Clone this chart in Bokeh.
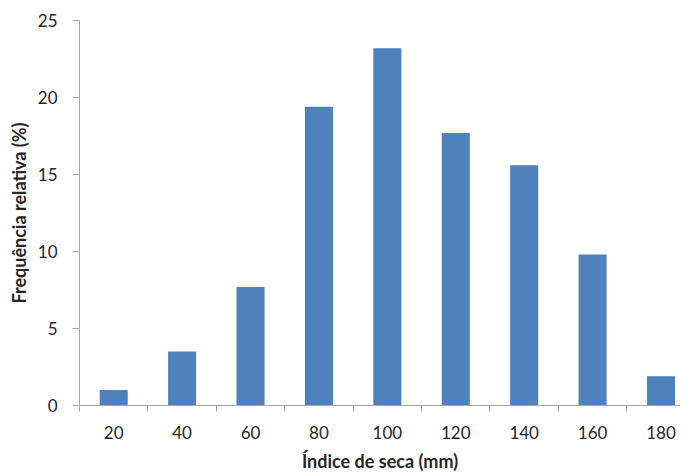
from bokeh.plotting import figure
from bokeh.models import Range1d, FixedTicker, ColumnDataSource
from bokeh.embed import file_html
from bokeh.resources import INLINE

# Data
categories = [20, 40, 60, 80, 100, 120, 140, 160, 180]
frequencies = [1.0, 3.5, 7.7, 19.4, 23.2, 17.7, 15.6, 9.8, 1.9]
y_ticks = [0, 5, 10, 15, 20, 25]

source = ColumnDataSource(data=dict(x=categories, top=frequencies))

FONT = "Lato"
AXIS_COLOR = "#a6a6a6"
TEXT_COLOR = "#262626"

p = figure(
    output_backend="svg",
    toolbar_location=None,
    frame_width=601,
    frame_height=385,
    min_border_left=79,
    min_border_top=20,
    min_border_right=0,
    min_border_bottom=60,
    x_range=Range1d(10, 185.7),
    y_range=Range1d(0, 25),
)

p.vbar(x="x", top="top", width=8.2, source=source,
       fill_color="#4F81BD", line_color=None)

p.outline_line_color = None
p.xgrid.visible = False
p.ygrid.visible = False

# X axis: labels at category centres, tick marks at category boundaries
boundaries = [c - 10 for c in categories]
p.xaxis.ticker = FixedTicker(ticks=categories, minor_ticks=boundaries)
p.xaxis.major_tick_out = 0
p.xaxis.major_tick_in = 0
p.xaxis.minor_tick_out = 6
p.xaxis.minor_tick_in = 0
p.xaxis.minor_tick_line_color = AXIS_COLOR
p.xaxis.axis_line_color = AXIS_COLOR
p.xaxis.major_label_standoff = 14
p.xaxis.major_label_text_font = FONT
p.xaxis.major_label_text_font_size = "17px"
p.xaxis.major_label_text_color = TEXT_COLOR
p.xaxis.axis_label = "Índice de seca (mm)"
p.xaxis.axis_label_text_font = FONT
p.xaxis.axis_label_text_font_style = "bold"
p.xaxis.axis_label_text_font_size = "18px"
p.xaxis.axis_label_text_color = TEXT_COLOR
p.xaxis.axis_label_standoff = 8

# Y axis
p.yaxis.ticker = FixedTicker(ticks=y_ticks)
p.yaxis.minor_tick_line_color = None
p.yaxis.major_tick_out = 7
p.yaxis.major_tick_in = 0
p.yaxis.major_tick_line_color = AXIS_COLOR
p.yaxis.axis_line_color = AXIS_COLOR
p.yaxis.major_label_standoff = 15
p.yaxis.major_label_text_font = FONT
p.yaxis.major_label_text_font_size = "17px"
p.yaxis.major_label_text_color = TEXT_COLOR
p.yaxis.axis_label = "Frequência relativa (%)"
p.yaxis.axis_label_text_font = FONT
p.yaxis.axis_label_text_font_style = "bold"
p.yaxis.axis_label_text_font_size = "18px"
p.yaxis.axis_label_text_color = TEXT_COLOR
p.yaxis.axis_label_standoff = 5

open("out.html", "w").write(file_html(p, INLINE))
